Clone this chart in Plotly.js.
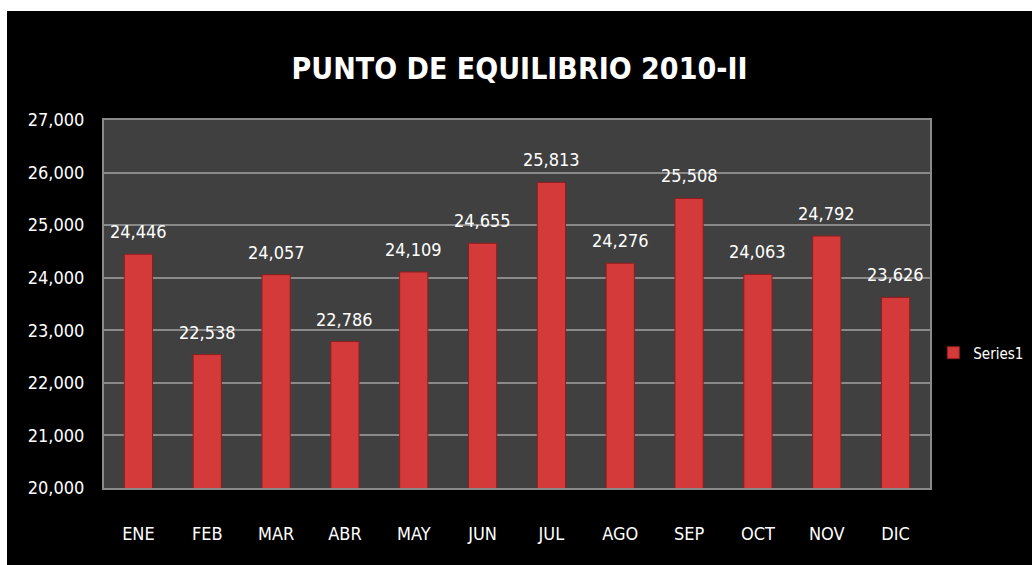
<!DOCTYPE html>
<html>
<head>
<meta charset="utf-8">
<script src="https://cdn.plot.ly/plotly-3.0.1.min.js"></script>
<style>
html,body{margin:0;padding:0;background:#ffffff;width:1032px;height:565px;overflow:hidden;}
#chart{position:absolute;left:7px;top:11px;width:1025px;height:554px;}
</style>
</head>
<body>
<div id="chart"></div>
<script>
const months = ["ENE","FEB","MAR","ABR","MAY","JUN","JUL","AGO","SEP","OCT","NOV","DIC"];
const values = [24446,22538,24057,22786,24109,24655,25813,24276,25508,24063,24792,23626];
const seriesName = "Series1";
const titleText = "PUNTO DE EQUILIBRIO 2010-II";
const yTicks = [20000,21000,22000,23000,24000,25000,26000,27000];

const FONT = '"DejaVu Sans Condensed","Liberation Sans Narrow","Open Sans",sans-serif';
const fmt = v => v.toLocaleString('en-US');

const trace = {
  type: 'bar',
  x: months,
  y: values,
  name: seriesName,
  marker: {color: '#d43a3a', line: {color: '#8e1e1e', width: 1}},
  width: 0.41,
  showlegend: true
};

const annotations = months.map((m, i) => ({
  x: m, y: values[i], xref: 'x', yref: 'y',
  text: fmt(values[i]), showarrow: false,
  yanchor: 'bottom', yshift: 10,
  font: {family: FONT, size: 18, color: '#ffffff'}
}));

const layout = {
  width: 1025, height: 554,
  paper_bgcolor: '#000000',
  plot_bgcolor: '#404040',
  margin: {l: 97, r: 102, t: 109, b: 77, autoexpand: false},
  title: {text: '<b>' + titleText + '</b>', font: {family: FONT, size: 30, color: '#ffffff'}, x: 0.5, xanchor: 'center', y: 0.897, yanchor: 'middle'},
  font: {family: FONT, color: '#ffffff', size: 18},
  xaxis: {
    type: 'category',
    showgrid: false, zeroline: false,
    showline: true, linecolor: '#8a8a8a', linewidth: 2, mirror: true,
    ticks: '', ticklabelstandoff: 28,
    tickfont: {family: FONT, size: 18, color: '#ffffff'}
  },
  yaxis: {
    range: [20000, 27000],
    tickvals: yTicks,
    ticktext: yTicks.map(fmt),
    showgrid: true, gridcolor: '#8a8a8a', gridwidth: 2,
    zeroline: false,
    showline: true, linecolor: '#8a8a8a', linewidth: 2, mirror: true,
    ticks: '', ticklabelstandoff: 14,
    tickfont: {family: FONT, size: 18, color: '#ffffff'}
  },
  annotations: annotations,
  legend: {x: 1.004, xanchor: 'left', y: 0.367, yanchor: 'middle', bgcolor: 'rgba(0,0,0,0)', font: {family: FONT, size: 15, color: '#ffffff'}, itemwidth: 30},
  bargap: 0.59
};

Plotly.newPlot('chart', [trace], layout, {displayModeBar: false, staticPlot: true});
</script>
</body>
</html>
